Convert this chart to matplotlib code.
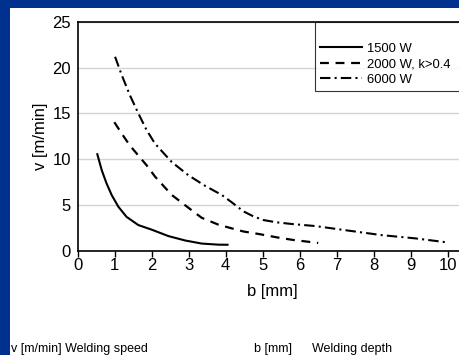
import matplotlib
matplotlib.use("Agg")
import matplotlib.pyplot as plt
from matplotlib.patches import Rectangle

plt.rcParams['font.family'] = ['Liberation Sans', 'DejaVu Sans']

# Data
b_1500 = [0.53, 0.65, 0.78, 0.92, 1.10, 1.32, 1.64, 2.0, 2.45, 2.9, 3.35, 3.8, 4.05]
v_1500 = [10.55, 8.8, 7.35, 6.07, 4.8, 3.7, 2.8, 2.3, 1.6, 1.12, 0.78, 0.66, 0.65]

b_2000 = [0.99, 1.19, 1.41, 1.64, 1.86, 2.09, 2.54, 2.99, 3.35, 3.8, 4.2, 4.48, 4.93, 5.38, 5.83, 6.5]
v_2000 = [14.05, 12.8, 11.5, 10.4, 9.35, 8.1, 6.1, 4.7, 3.6, 2.85, 2.4, 2.1, 1.8, 1.46, 1.17, 0.85]

b_6000 = [1.01, 1.19, 1.41, 1.64, 1.86, 2.09, 2.54, 2.99, 3.44, 3.89, 4.16, 4.48, 4.75,
          5.02, 5.38, 5.83, 6.41, 7.31, 8.22, 9.12, 10.0]
v_6000 = [21.2, 19.2, 17.0, 15.0, 13.2, 11.7, 9.7, 8.25, 7.1, 6.1, 5.3, 4.3, 3.75,
          3.35, 3.1, 2.9, 2.7, 2.2, 1.7, 1.35, 0.9]

labels = ['1500 W', '2000 W, k>0.4', '6000 W']
xticks = list(range(0, 11))
yticks = [0, 5, 10, 15, 20, 25]

W, H = 459, 355
fig = plt.figure(figsize=(W / 100, H / 100), dpi=100)
fig.patch.set_facecolor('#00318E')
bg = Rectangle((10 / W, 0), 1 - 10 / W, (H - 8) / H,
               transform=fig.transFigure, facecolor='white',
               edgecolor='none', zorder=-5)
fig.patches.append(bg)

x0 = 77.7
y0 = 250.7
pxu_x = 37.0
top = 22.0
xmax = 10.5
axw = pxu_x * xmax
ax = fig.add_axes([x0 / W, (H - y0) / H, axw / W, (y0 - top) / H])
ax.set_zorder(2)
ax.set_facecolor('none')
ax.set_xlim(0, xmax)
ax.set_ylim(0, 25)

ax.plot(b_1500, v_1500, color='black', lw=1.5, ls='-', label=labels[0])
ax.plot(b_2000, v_2000, color='black', lw=1.6, ls=(0, (4, 3)), label=labels[1])
ax.plot(b_6000, v_6000, color='black', lw=1.5, ls=(0, (5, 2, 1, 2)), label=labels[2])

ax.set_xticks(xticks)
ax.set_yticks(yticks)
ax.tick_params(axis='x', direction='out', length=4, width=1, labelsize=12, pad=1)
ax.tick_params(axis='y', length=0, labelsize=12, pad=5)
ax.yaxis.grid(True, color='#d4d4d4', lw=1)
ax.set_axisbelow(True)
for s in ['left', 'bottom', 'top']:
    ax.spines[s].set_linewidth(1.2)
ax.spines['right'].set_visible(False)

ax.set_ylabel('v [m/min]', fontsize=12, labelpad=3)
ax.set_xlabel('b [mm]', fontsize=12, labelpad=8)

leg = ax.legend(loc='upper left',
                bbox_to_anchor=((315 - x0) / axw, 1.0, (480 - 315) / axw, 0.0),
                mode='expand',
                frameon=True, fancybox=False, fontsize=9.4, handlelength=3.2,
                handletextpad=0.4, borderaxespad=0, labelspacing=0.26,
                borderpad=0.4, title=' ', title_fontsize=9)
leg.get_frame().set_edgecolor('black')
leg.get_frame().set_linewidth(0.8)

fig.text(11 / W, 1 - 349 / H, 'v [m/min] Welding speed', fontsize=9, va='center', ha='left')
fig.text(254 / W, 1 - 349 / H, 'b [mm]', fontsize=9, va='center', ha='left')
fig.text(312 / W, 1 - 349 / H, 'Welding depth', fontsize=9, va='center', ha='left')

fig.savefig('out.png', dpi=100, facecolor=fig.get_facecolor())
